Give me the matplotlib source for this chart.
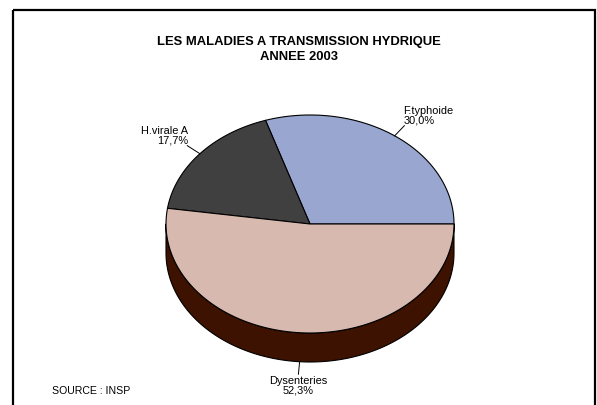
import numpy as np
import matplotlib
matplotlib.use('Agg')
import matplotlib.pyplot as plt
from matplotlib.patches import Polygon, Rectangle

plt.rcParams['font.family'] = ['Liberation Sans', 'DejaVu Sans']

# Data
labels = ['F.typhoide', 'H.virale A', 'Dysenteries']
shares = [30.0, 17.7, 52.3]
top_colors = ['#99a6cf', '#404040', '#d8b9af']
side_colors = ['#4a5170', '#202020', '#3d1200']
title_lines = ['LES MALADIES A TRANSMISSION HYDRIQUE', 'ANNEE 2003']
source_text = 'SOURCE : INSP'

# Layout of the 3D pie (in pixel units of the figure)
W, H = 597, 406
cx, cy = 310, 225
rx, ry = 144, 109
depth = 29

fig = plt.figure(figsize=(W / 100, H / 100), dpi=100)
ax = fig.add_axes([0, 0, 1, 1])
ax.set_xlim(0, W)
ax.set_ylim(H, 0)
ax.axis('off')

# frame
ax.add_patch(Rectangle((12.5, 11), 582, 420, fill=False, lw=1.6,
                       edgecolor='black', clip_on=True))


def arc(a0, a1, dy=0, n=120):
    t = np.radians(np.linspace(a0, a1, n))
    return np.column_stack([cx + rx * np.cos(t), cy - ry * np.sin(t) + dy])


fracs = np.array(shares) / sum(shares)
bounds = np.concatenate([[0], np.cumsum(fracs) * 360])

# sides (only the front half is visible)
for i in range(len(shares)):
    a0, a1 = max(bounds[i], 180), min(bounds[i + 1], 360)
    if a1 <= a0:
        continue
    pts = np.vstack([arc(a0, a1), arc(a0, a1, depth)[::-1]])
    ax.add_patch(Polygon(pts, closed=True, facecolor=side_colors[i],
                         edgecolor='black', lw=0.8, joinstyle='round'))

# top faces
for i in range(len(shares)):
    pts = np.vstack([[cx, cy], arc(bounds[i], bounds[i + 1])])
    ax.add_patch(Polygon(pts, closed=True, facecolor=top_colors[i],
                         edgecolor='black', lw=0.8, joinstyle='round'))

# labels with leader lines
for i in range(len(shares)):
    mid = np.radians((bounds[i] + bounds[i + 1]) / 2)
    c, s = np.cos(mid), np.sin(mid)
    dy = depth if s < 0 else 0
    x0, y0 = cx + rx * c, cy - ry * s + dy
    k = 1.115
    x1, y1 = cx + rx * k * c, cy - ry * k * s + dy
    ax.plot([x0, x1], [y0, y1], color='black', lw=0.7)
    txt = labels[i] + '\n' + f'{shares[i]:.1f}'.replace('.', ',') + '%'
    if c > 0.3:
        ha, tx = 'left', x1 - 1
    elif c < -0.3:
        ha, tx = 'right', x1 + 1
    else:
        ha, tx = 'center', x1
    if s > 0:
        va, ty, ma = 'bottom', y1 - 1, ha
    else:
        va, ty, ma = 'top', y1 + 1, 'center'
    ax.text(tx, ty, txt, ha=ha, va=va, multialignment=ma, fontsize=7.9,
            linespacing=0.95, color='black')

# title
ax.text(W / 2, 45, title_lines[0], ha='center', va='baseline',
        fontsize=9.4, fontweight='bold')
ax.text(W / 2, 60, title_lines[1], ha='center', va='baseline',
        fontsize=9.4, fontweight='bold')

ax.text(52, 394, source_text, ha='left', va='baseline', fontsize=7.6)

fig.savefig('out.png', dpi=100)
